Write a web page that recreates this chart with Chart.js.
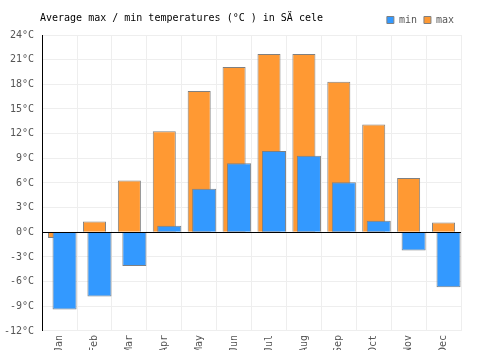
<!DOCTYPE html>
<html>
<head>
<meta charset="utf-8">
<script src="https://cdn.jsdelivr.net/npm/chart.js@4.4.1/dist/chart.umd.min.js"></script>
<style>
    html, body { margin: 0; padding: 0; overflow: hidden; background: #fff; }
    #contenedor { width: 500px; height: 357px; }
</style>
</head>
<body>
<div id="contenedor"><canvas id="tempChart"></canvas></div>
<script>
// Datos del gráfico
const meses = ['Jan', 'Feb', 'Mar', 'Apr', 'May', 'Jun', 'Jul', 'Aug', 'Sep', 'Oct', 'Nov', 'Dec'];
const tempMin = [-9.4, -7.8, -4.1, 0.8, 5.3, 8.4, 9.9, 9.3, 6.1, 1.4, -2.2, -6.7];
const tempMax = [-0.7, 1.3, 6.3, 12.3, 17.2, 20.1, 21.7, 21.7, 18.3, 13.1, 6.6, 1.2];
const ejeY = { min: -12, max: 24, paso: 3 };
const titulo = 'Average max / min temperatures (°C ) in SÄ cele';

const fuente = 'DejaVu Sans Mono';
Chart.defaults.font.family = fuente;
Chart.defaults.font.size = 10;
Chart.defaults.color = '#555';

// Título dibujado a mano para que quede en la misma línea que la leyenda
const tituloPlugin = {
    id: 'tituloPlugin',
    afterDraw(chart) {
        const ctx = chart.ctx;
        ctx.save();
        ctx.font = '10px ' + fuente;
        ctx.fillStyle = '#000';
        ctx.textBaseline = 'middle';
        ctx.textAlign = 'left';
        ctx.fillText(titulo, 40, 18);
        ctx.restore();
    }
};

// Las barras de mínimas van un poco corridas a la derecha, encima de las máximas
const desplazarMin = {
    id: 'desplazarMin',
    beforeDatasetDraw(chart, args) {
        if (args.index !== 0) return;
        chart.ctx.save();
        chart.ctx.translate(5, 0);
    },
    afterDatasetDraw(chart, args) {
        if (args.index !== 0) return;
        chart.ctx.restore();
    }
};

// Línea del cero en negro, por encima de las barras
const lineaCero = {
    id: 'lineaCero',
    afterDatasetsDraw(chart) {
        const y = Math.round(chart.scales.y.getPixelForValue(0)) + 0.5;
        const ctx = chart.ctx;
        ctx.save();
        ctx.strokeStyle = '#000';
        ctx.lineWidth = 1;
        ctx.beginPath();
        ctx.moveTo(chart.chartArea.left, y);
        ctx.lineTo(chart.chartArea.right, y);
        ctx.stroke();
        ctx.restore();
    }
};

const ctx = document.getElementById('tempChart').getContext('2d');
const tempChart = new Chart(ctx, {
    type: 'bar',
    data: {
        labels: meses,
        datasets: [
            {
                label: 'min',
                data: tempMin,
                backgroundColor: '#3399ff',
                borderColor: '#808080',
                borderWidth: 1,
                grouped: false,
                categoryPercentage: 1,
                barPercentage: 0.69
            },
            {
                label: 'max',
                data: tempMax,
                backgroundColor: '#ff9933',
                borderColor: '#808080',
                borderWidth: 1,
                grouped: false,
                categoryPercentage: 1,
                barPercentage: 0.66
            }
        ]
    },
    options: {
        responsive: true,
        maintainAspectRatio: false,
        animation: false,
        layout: {
            padding: { left: -4, right: 39, top: 8, bottom: 0 }
        },
        scales: {
            x: {
                grid: { color: '#eeeeee', drawTicks: false },
                border: { color: '#eeeeee' },
                ticks: {
                    minRotation: 90,
                    maxRotation: 90,
                    padding: 4,
                    color: '#555'
                }
            },
            y: {
                min: ejeY.min,
                max: ejeY.max,
                grid: { color: '#eeeeee', drawTicks: false },
                border: { color: '#000' },
                ticks: {
                    stepSize: ejeY.paso,
                    padding: 8,
                    color: '#555',
                    callback: v => v + '°C'
                }
            }
        },
        plugins: {
            legend: {
                position: 'top',
                align: 'end',
                labels: {
                    boxWidth: 7,
                    boxHeight: 7,
                    padding: 7,
                    color: '#555'
                }
            },
            tooltip: { enabled: false }
        }
    },
    plugins: [tituloPlugin, desplazarMin, lineaCero]
});
</script>
</body>
</html>
